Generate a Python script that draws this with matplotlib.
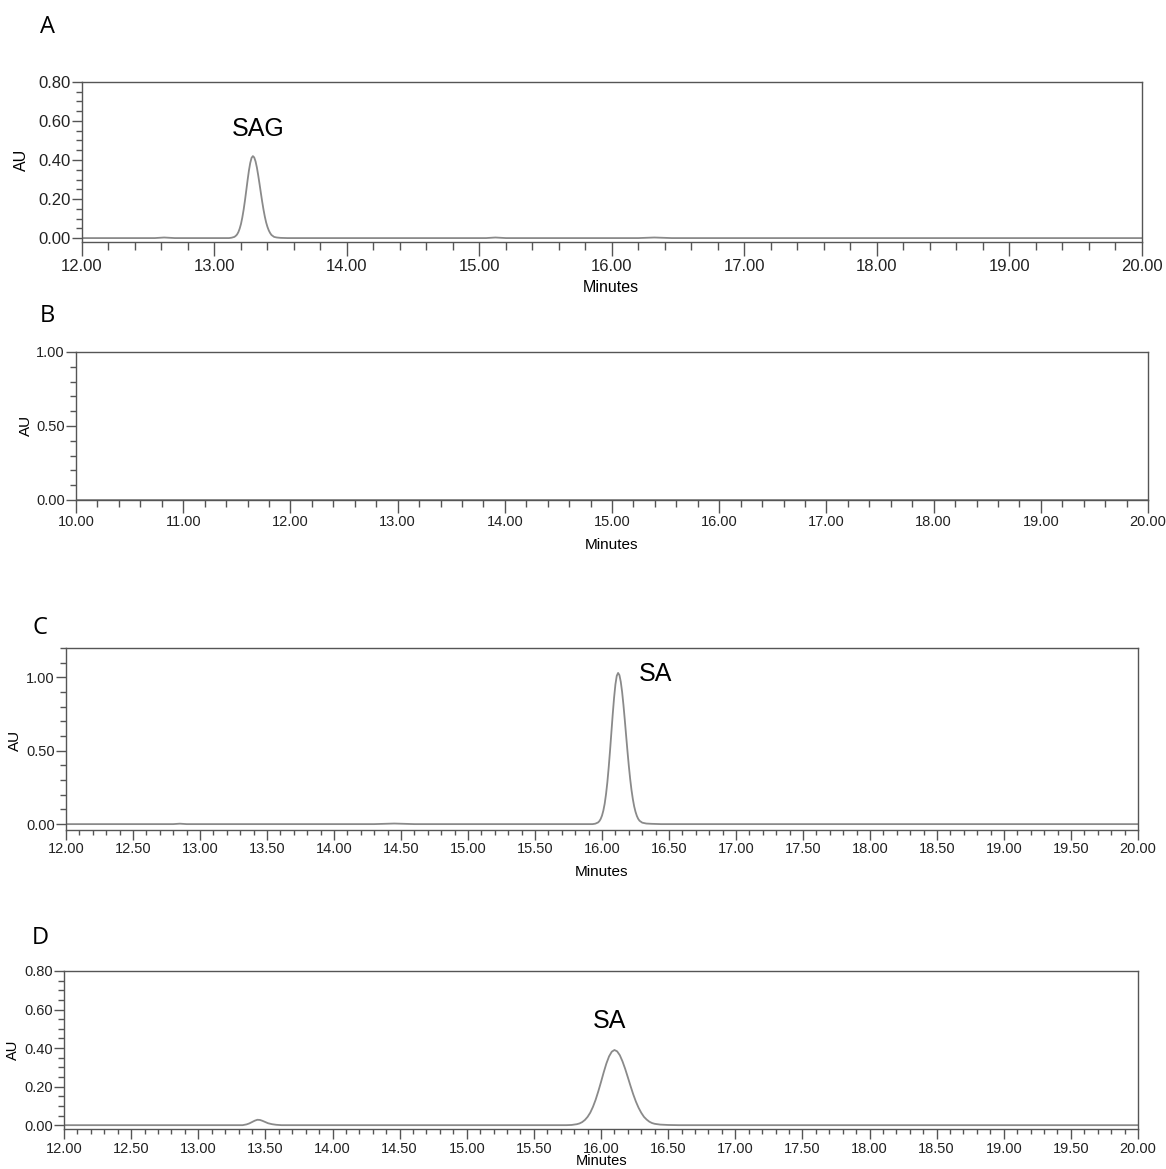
import matplotlib
matplotlib.use("Agg")
import matplotlib.pyplot as plt
from matplotlib.ticker import MultipleLocator, FormatStrFormatter

# ---------------- data ----------------
# Panel A : SAG peak near 13.29 min
a_time = [12.00, 12.55, 12.62, 12.70,
          13.11, 13.13, 13.15, 13.16, 13.17, 13.18, 13.19, 13.20, 13.21, 13.22, 13.23,
          13.24, 13.25, 13.26, 13.27, 13.28, 13.29, 13.30, 13.31, 13.32, 13.33, 13.34,
          13.35, 13.36, 13.37, 13.38, 13.39, 13.40, 13.41, 13.42, 13.43, 13.45, 13.47,
          13.50, 13.55, 13.62,
          15.05, 15.12, 15.20, 16.20, 16.32, 16.45, 20.00]
a_au = [0.000, 0.000, 0.003, 0.000,
        0.000, 0.002, 0.006, 0.011, 0.018, 0.030, 0.048, 0.072, 0.105, 0.145, 0.192,
        0.244, 0.297, 0.346, 0.385, 0.411, 0.420, 0.413, 0.393, 0.362, 0.322, 0.278,
        0.232, 0.187, 0.146, 0.110, 0.080, 0.057, 0.039, 0.026, 0.016, 0.006, 0.003,
        0.001, 0.000, 0.000,
        0.000, 0.003, 0.000, 0.000, 0.003, 0.000, 0.000]

# Panel B : blank run
b_time = [10.00, 20.00]
b_au = [0.000, 0.000]

# Panel C : SA peak near 16.12 min
c_time = [12.00, 12.80, 12.85, 12.90, 14.30, 14.45, 14.60,
          15.93, 15.95, 15.97, 15.98, 15.99, 16.00, 16.01, 16.02, 16.03, 16.04, 16.05,
          16.06, 16.07, 16.08, 16.09, 16.10, 16.11, 16.12, 16.13, 16.14, 16.15, 16.16,
          16.17, 16.18, 16.19, 16.20, 16.21, 16.22, 16.23, 16.24, 16.25, 16.26, 16.27,
          16.28, 16.30, 16.33, 16.37, 16.44, 20.00]
c_au = [0.000, 0.000, 0.003, 0.000, 0.000, 0.004, 0.000,
        0.000, 0.003, 0.011, 0.020, 0.035, 0.058, 0.092, 0.139, 0.204, 0.286, 0.387,
        0.501, 0.625, 0.748, 0.860, 0.951, 1.010, 1.030, 1.015, 0.970, 0.901, 0.812,
        0.710, 0.603, 0.497, 0.398, 0.309, 0.233, 0.171, 0.121, 0.084, 0.056, 0.036,
        0.023, 0.010, 0.004, 0.002, 0.000, 0.000]

# Panel D : small peak near 13.45 min, SA peak near 16.10 min
d_time = [12.00, 13.33, 13.36, 13.38, 13.40, 13.42, 13.44, 13.46, 13.48, 13.50, 13.52,
          13.55, 13.58, 13.62,
          15.74, 15.78, 15.82, 15.84, 15.86, 15.88, 15.90, 15.92, 15.94, 15.96, 15.98,
          16.00, 16.02, 16.04, 16.06, 16.08, 16.10, 16.12, 16.14, 16.16, 16.18, 16.20,
          16.22, 16.24, 16.26, 16.28, 16.30, 16.32, 16.34, 16.36, 16.38, 16.40, 16.44,
          16.50, 16.58, 20.00]
d_au = [0.000, 0.000, 0.004, 0.009, 0.016, 0.023, 0.028, 0.027, 0.022, 0.016, 0.010,
        0.005, 0.002, 0.000,
        0.000, 0.001, 0.005, 0.009, 0.016, 0.027, 0.043, 0.065, 0.095, 0.132, 0.176,
        0.224, 0.274, 0.320, 0.357, 0.381, 0.390, 0.383, 0.363, 0.331, 0.292, 0.248,
        0.203, 0.160, 0.122, 0.090, 0.064, 0.043, 0.029, 0.018, 0.011, 0.007, 0.003,
        0.001, 0.000, 0.000]

panel_letters = ["A", "B", "C", "D"]
peak_labels = [("SAG", 13.33, 0.56), ("SA", 16.40, 1.02), ("SA", 16.065, 0.54)]

# ---------------- figure ----------------
W, H = 1166, 1169
fig = plt.figure(figsize=(W / 100, H / 100), dpi=100)

wide = ["Liberation Sans", "DejaVu Sans"]
trace_color = "#8a8a8a"
spine_color = "#555555"


def style_axis(ax, xlim, ylim, xmaj, xmin, ymaj, ymin, fs, lfs, tlen, au_px, min_px):
    ax.set_xlim(*xlim)
    ax.set_ylim(*ylim)
    ax.xaxis.set_major_locator(MultipleLocator(xmaj))
    ax.xaxis.set_minor_locator(MultipleLocator(xmin))
    ax.yaxis.set_major_locator(MultipleLocator(ymaj))
    ax.yaxis.set_minor_locator(MultipleLocator(ymin))
    ax.xaxis.set_major_formatter(FormatStrFormatter("%.2f"))
    ax.yaxis.set_major_formatter(FormatStrFormatter("%.2f"))
    for s in ax.spines.values():
        s.set_color(spine_color)
        s.set_linewidth(1.0)
    ax.tick_params(axis="x", which="major", direction="out", length=tlen, width=1,
                   color=spine_color, pad=2)
    ax.tick_params(axis="x", which="minor", direction="out", length=tlen * 0.55, width=1,
                   color=spine_color)
    ax.tick_params(axis="y", which="major", direction="out", length=7, width=1,
                   color=spine_color, pad=1)
    ax.tick_params(axis="y", which="minor", direction="out", length=4, width=1,
                   color=spine_color)
    for lab in ax.get_xticklabels() + ax.get_yticklabels():
        lab.set_family(wide)
        lab.set_fontsize(fs)
        lab.set_color("#222222")
    ax.set_xlabel("Minutes", family=wide, fontsize=lfs)
    ax.set_ylabel("AU", family=wide, fontsize=lfs)
    ax.yaxis.set_label_coords(au_px[0] / W, 1 - au_px[1] / H, transform=fig.transFigure)
    ax.yaxis.label.set_va("center")
    ax.xaxis.set_label_coords(min_px[0] / W, 1 - min_px[1] / H, transform=fig.transFigure)
    ax.xaxis.label.set_va("center")


# Panel A
axA = fig.add_axes([0.0703, 0.7930, 0.9091, 0.1369])
axA.plot(a_time, a_au, color=trace_color, lw=1.3)
style_axis(axA, (12, 20), (-0.02, 0.80), 1.0, 0.2, 0.2, 0.05, 12, 11.5, 10,
           (21, 160), (611, 288))

# Panel B
axB = fig.add_axes([0.0652, 0.5723, 0.9194, 0.1266])
axB.plot(b_time, b_au, color=trace_color, lw=1.3)
style_axis(axB, (10, 20), (0.0, 1.0), 1.0, 0.2, 0.5, 0.1, 10.5, 11, 9,
           (26, 425), (611, 545))

# Panel C
axC = fig.add_axes([0.0566, 0.2900, 0.9194, 0.1557])
axC.plot(c_time, c_au, color=trace_color, lw=1.3)
style_axis(axC, (12, 20), (-0.04, 1.20), 0.5, 0.1, 0.5, 0.1, 10.5, 11, 7,
           (15, 740), (602, 872))

# Panel D
axD = fig.add_axes([0.0549, 0.0342, 0.9211, 0.1352])
axD.plot(d_time, d_au, color=trace_color, lw=1.3)
style_axis(axD, (12, 20), (-0.02, 0.80), 0.5, 0.1, 0.2, 0.05, 10.5, 10.5, 7,
           (13, 1050), (602, 1161))

# peak labels
for ax, (txt, x, y) in zip([axA, axC, axD], peak_labels):
    ax.text(x, y, txt, ha="center", va="center", fontsize=18, family=wide, color="black")

# panel letters
letter_px = [(47, 27), (47, 316), (40, 628), (40, 938)]
for L, (x, y) in zip(panel_letters, letter_px):
    fig.text(x / W, 1 - y / H, L, fontsize=17, family=["Open Sans", "DejaVu Sans"],
             ha="center", va="center")

fig.savefig("out.png", dpi=100)
